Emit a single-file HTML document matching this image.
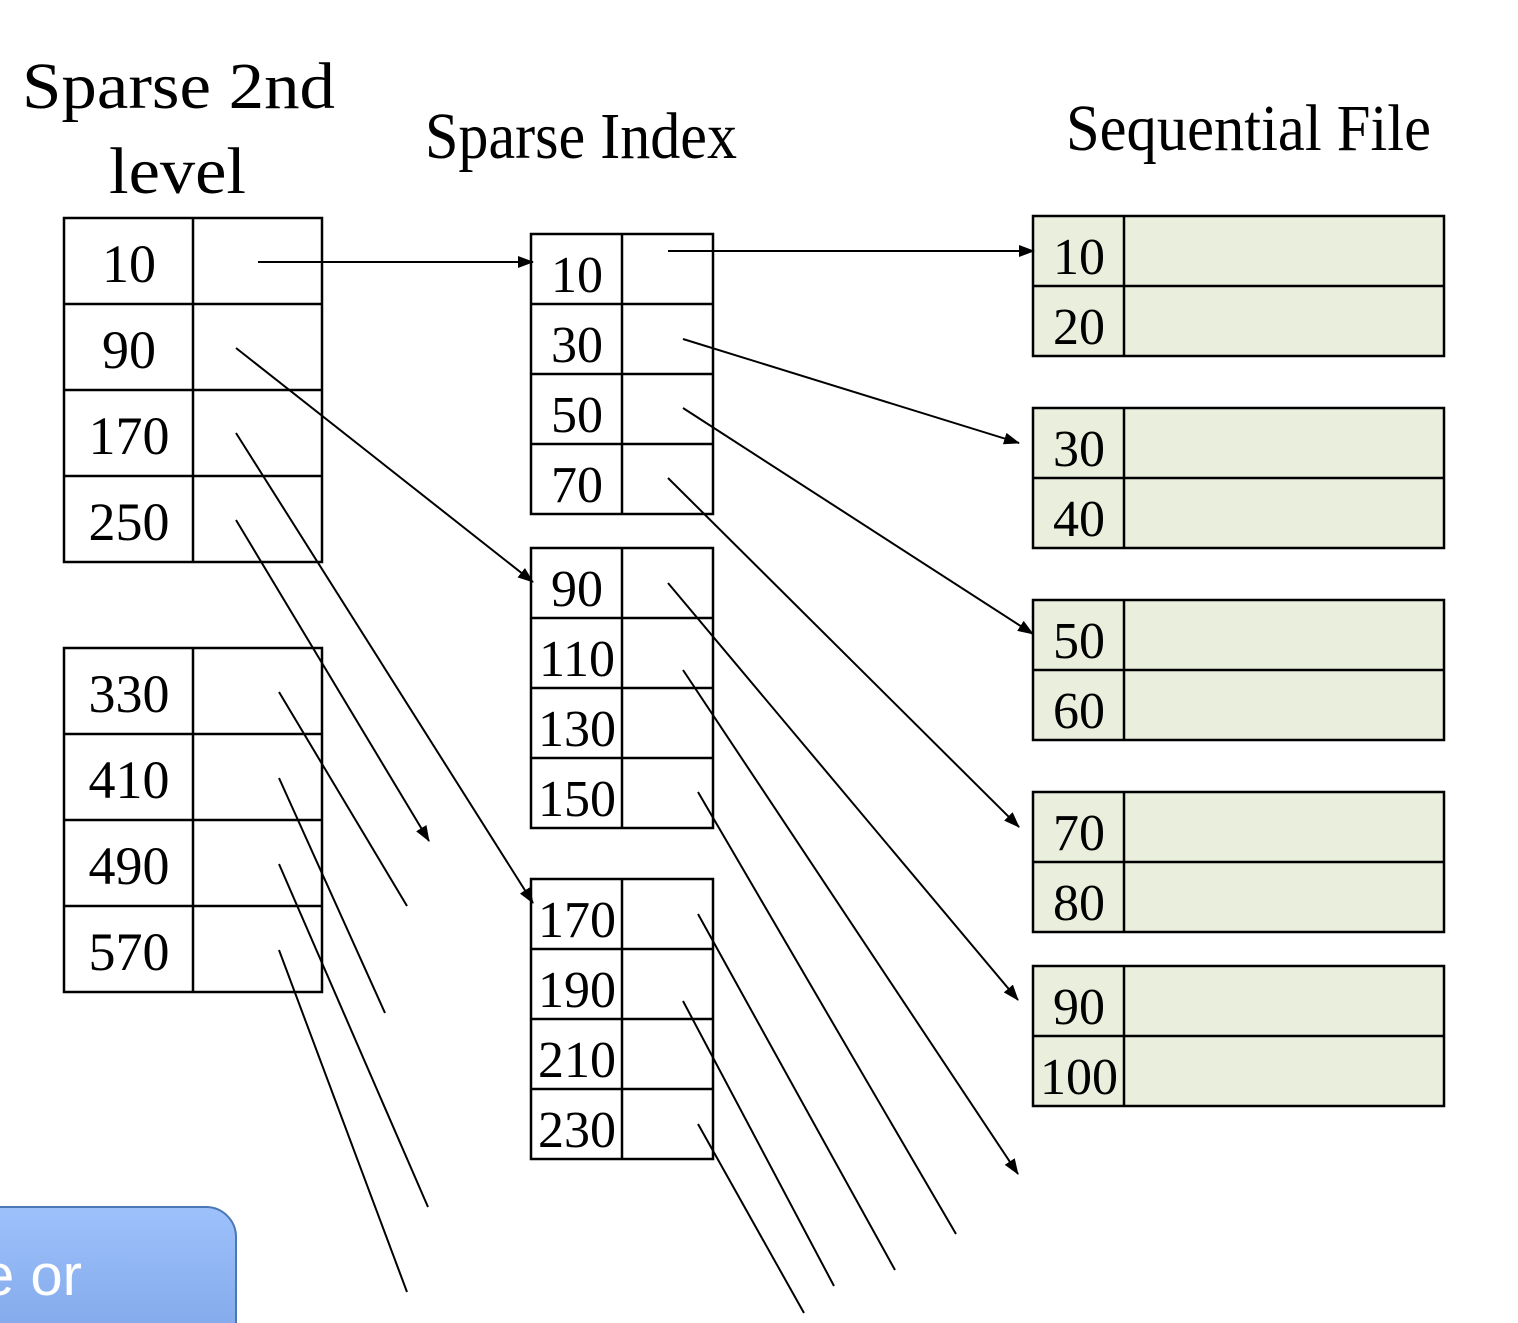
<!DOCTYPE html>
<html><head><meta charset="utf-8"><style>
html,body{margin:0;padding:0;background:#fff;}
svg{display:block;}
.t{font-family:"Liberation Serif",serif;fill:#000;}
</style></head><body>
<svg width="1518" height="1323" viewBox="0 0 1518 1323" xmlns="http://www.w3.org/2000/svg">
<defs>
<marker id="a" markerWidth="16" markerHeight="12" refX="15" refY="6" orient="auto" markerUnits="userSpaceOnUse"><path d="M0,0 L16,6 L0,12 z" fill="#000"/></marker>
<linearGradient id="g" x1="0" y1="0" x2="0" y2="1"><stop offset="0" stop-color="#9dc1fb"/><stop offset="1" stop-color="#7ca3e6"/></linearGradient>
</defs>
<g class="t" font-size="66">
<text x="22" y="108" textLength="313" lengthAdjust="spacingAndGlyphs">Sparse 2nd</text>
<text x="109" y="193" textLength="137" lengthAdjust="spacingAndGlyphs">level</text>
<text x="425" y="158" textLength="312" lengthAdjust="spacingAndGlyphs">Sparse Index</text>
<text x="1066" y="150" textLength="365" lengthAdjust="spacingAndGlyphs">Sequential File</text>
</g>
<g fill="none" stroke="#000" stroke-width="2.5">
<rect x="64" y="218" width="258" height="344"/>
<line x1="193" y1="218" x2="193" y2="562"/>
<line x1="64" y1="304" x2="322" y2="304"/><line x1="64" y1="390" x2="322" y2="390"/><line x1="64" y1="476" x2="322" y2="476"/>
<rect x="64" y="648" width="258" height="344"/>
<line x1="193" y1="648" x2="193" y2="992"/>
<line x1="64" y1="734" x2="322" y2="734"/><line x1="64" y1="820" x2="322" y2="820"/><line x1="64" y1="906" x2="322" y2="906"/>
<rect x="531" y="234" width="182" height="280"/><line x1="622" y1="234" x2="622" y2="514"/>
<line x1="531" y1="304" x2="713" y2="304"/><line x1="531" y1="374" x2="713" y2="374"/><line x1="531" y1="444" x2="713" y2="444"/>
<rect x="531" y="548" width="182" height="280"/><line x1="622" y1="548" x2="622" y2="828"/>
<line x1="531" y1="618" x2="713" y2="618"/><line x1="531" y1="688" x2="713" y2="688"/><line x1="531" y1="758" x2="713" y2="758"/>
<rect x="531" y="879" width="182" height="280"/><line x1="622" y1="879" x2="622" y2="1159"/>
<line x1="531" y1="949" x2="713" y2="949"/><line x1="531" y1="1019" x2="713" y2="1019"/><line x1="531" y1="1089" x2="713" y2="1089"/>
</g>
<g stroke="#000" stroke-width="2.5" fill="#eaeedd">
<rect x="1033" y="216" width="411" height="140"/><rect x="1033" y="408" width="411" height="140"/><rect x="1033" y="600" width="411" height="140"/><rect x="1033" y="792" width="411" height="140"/><rect x="1033" y="966" width="411" height="140"/>
</g>
<g stroke="#000" stroke-width="2.5">
<line x1="1124" y1="216" x2="1124" y2="356"/><line x1="1033" y1="286" x2="1444" y2="286"/>
<line x1="1124" y1="408" x2="1124" y2="548"/><line x1="1033" y1="478" x2="1444" y2="478"/>
<line x1="1124" y1="600" x2="1124" y2="740"/><line x1="1033" y1="670" x2="1444" y2="670"/>
<line x1="1124" y1="792" x2="1124" y2="932"/><line x1="1033" y1="862" x2="1444" y2="862"/>
<line x1="1124" y1="966" x2="1124" y2="1106"/><line x1="1033" y1="1036" x2="1444" y2="1036"/>
</g>
<g class="t" font-size="54" text-anchor="middle">
<text x="129" y="282">10</text><text x="129" y="368">90</text><text x="129" y="454">170</text><text x="129" y="540">250</text>
<text x="129" y="712">330</text><text x="129" y="798">410</text><text x="129" y="884">490</text><text x="129" y="970">570</text>
</g>
<g class="t" font-size="52" text-anchor="middle">
<text x="577" y="292">10</text><text x="577" y="362">30</text><text x="577" y="432">50</text><text x="577" y="502">70</text>
<text x="577" y="606">90</text><text x="577" y="676">110</text><text x="577" y="746">130</text><text x="577" y="816">150</text>
<text x="577" y="937">170</text><text x="577" y="1007">190</text><text x="577" y="1077">210</text><text x="577" y="1147">230</text>
<text x="1079" y="274">10</text><text x="1079" y="344">20</text>
<text x="1079" y="466">30</text><text x="1079" y="536">40</text>
<text x="1079" y="658">50</text><text x="1079" y="728">60</text>
<text x="1079" y="850">70</text><text x="1079" y="920">80</text>
<text x="1079" y="1024">90</text><text x="1079" y="1094">100</text>
</g>
<g stroke="#000" stroke-width="2">
<line x1="258" y1="262" x2="533" y2="262" marker-end="url(#a)"/>
<line x1="236" y1="348" x2="533" y2="582" marker-end="url(#a)"/>
<line x1="236" y1="433" x2="533" y2="903" marker-end="url(#a)"/>
<line x1="236" y1="520" x2="429" y2="841" marker-end="url(#a)"/>
<line x1="279" y1="692" x2="407" y2="906"/>
<line x1="279" y1="778" x2="385" y2="1013"/>
<line x1="279" y1="864" x2="428" y2="1207"/>
<line x1="279" y1="950" x2="407" y2="1292"/>
<line x1="668" y1="251" x2="1034" y2="251" marker-end="url(#a)"/>
<line x1="683" y1="339" x2="1019" y2="443" marker-end="url(#a)"/>
<line x1="683" y1="408" x2="1033" y2="634" marker-end="url(#a)"/>
<line x1="668" y1="478" x2="1019" y2="827" marker-end="url(#a)"/>
<line x1="668" y1="583" x2="1018" y2="1000" marker-end="url(#a)"/>
<line x1="683" y1="670" x2="1018" y2="1174" marker-end="url(#a)"/>
<line x1="698" y1="792" x2="956" y2="1234"/>
<line x1="698" y1="914" x2="895" y2="1270"/>
<line x1="683" y1="1001" x2="834" y2="1286"/>
<line x1="698" y1="1124" x2="804" y2="1313"/>
</g>
<rect x="-40" y="1207" width="276" height="160" rx="30" fill="url(#g)" stroke="#4a78b4" stroke-width="2"/>
<text x="-18" y="1295" font-family="Liberation Sans, sans-serif" font-size="58" fill="#fff">e or</text>
</svg>
</body></html>
